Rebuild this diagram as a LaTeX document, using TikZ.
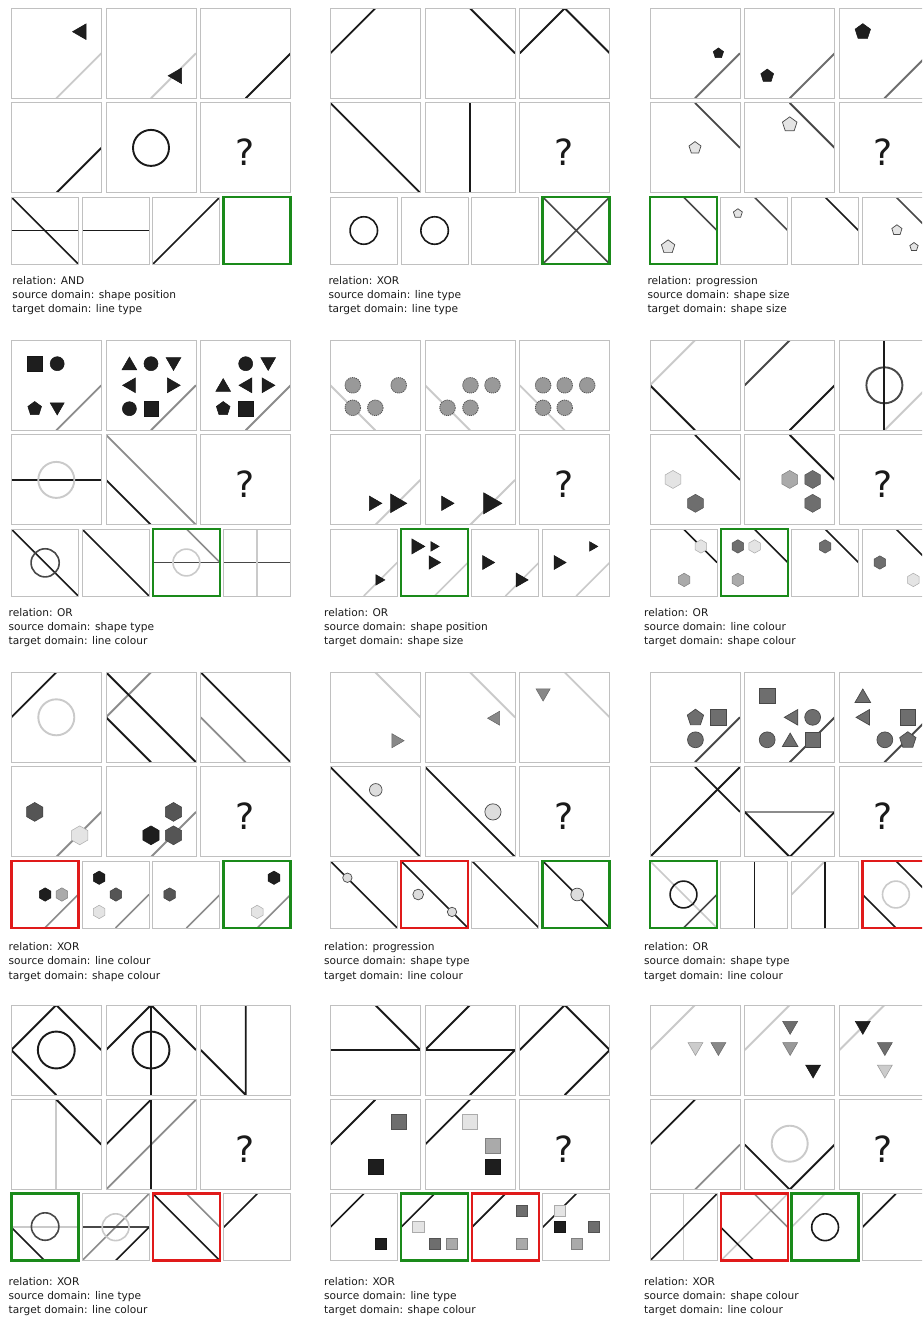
\documentclass[tikz,border=0pt]{standalone}
\usepackage{fontspec}
\setmainfont{DejaVu Sans}
\definecolor{cK}{HTML}{1A1A1A}
\definecolor{cD}{HTML}{484848}
\definecolor{cM}{HTML}{6E6E6E}
\definecolor{cG}{HTML}{8C8C8C}
\definecolor{cL}{HTML}{CACACA}
\definecolor{cFrame}{HTML}{C0C0C0}
\definecolor{cGreen}{HTML}{1A8A1A}
\definecolor{cRed}{HTML}{E01A1A}
\definecolor{fA}{HTML}{1E1E1E}
\definecolor{fB}{HTML}{555555}
\definecolor{fC}{HTML}{6E6E6E}
\definecolor{fD}{HTML}{999999}
\definecolor{fE}{HTML}{AAAAAA}
\definecolor{fF}{HTML}{CCCCCC}
\definecolor{fG}{HTML}{E4E4E4}
\definecolor{fH}{HTML}{888888}
\definecolor{fI}{HTML}{DDDDDD}
\tikzset{
  L/.style={draw=#1,line width=\lw},
  boxframe/.style={draw=cFrame,line width=0.9pt},
  gframe/.style={draw=cGreen,line width=2.6pt},
  rframe/.style={draw=cRed,line width=2.6pt},
  S/.style={fill=#1,draw=#1!75!black,line width=0.5pt},
  SO/.style={fill=#1,draw=cD,line width=0.7pt},
  SC/.style={fill=fD,draw=fB,line width=0.8pt,dash pattern=on 1.2pt off 0.9pt},
  txt/.style={anchor=base west,inner sep=0pt,font=\fontsize{10.6}{12}\selectfont,text=cK},
  qm/.style={font=\fontsize{36}{36}\selectfont,text=cK,inner sep=0pt}
}
\newcommand\Poly[6]{\path[#1] (#2,#3) +(#6:#4) \foreach \k in {1,...,#5}{ -- +({#6+360*\k/#5}:#4)} -- cycle;}
\newcommand\Tri[5]{\Poly{#1}{#2}{#3}{#4}{3}{#5}}
\newcommand\Pent[4]{\Poly{#1}{#2}{#3}{#4}{5}{-90}}
\newcommand\Hex[4]{\Poly{#1}{#2}{#3}{#4}{6}{-90}}
\newcommand\Sq[4]{\path[#1] ({#2-#4},{#3-#4}) rectangle ({#2+#4},{#3+#4});}
\newcommand\Ci[4]{\path[#1] (#2,#3) circle[radius=#4];}
\newcommand\Cell[5]{\begin{scope}[shift={(#1,#2)},x=#3,y=-#3]\begin{scope}\clip (0,0) rectangle (10,10);#5\end{scope}\draw[#4] (0,0) rectangle (10,10);\end{scope}}
\newcommand\M[3]{\def\lw{1.9pt}\Cell{{#1*94.7}}{{#2*94.6}}{9pt}{boxframe}{#3}}
\newcommand\An[3]{\def\lw{1.6pt}\Cell{{#1*70.8}}{188.7}{6.7pt}{#2}{#3}}
\newcommand\Q[1]{\node[qm] (#1) at (4.9,5.45) {?};}
\newcommand\Txt[6]{\node[txt] (#1a) at (#2,#3) {relation: #4};\node[txt] (#1b) at (#2,#3+14.2) {source domain: #5};\node[txt] (#1c) at (#2,#3+28.4) {target domain: #6};}
\begin{document}
\begin{tikzpicture}[x=1pt,y=-1pt]
\useasboundingbox (0,0) rectangle (922,1317);
\fill[white] (0,0) rectangle (922,1317);
\clip (0,0) rectangle (922,1317);
% ---------- Panel 1
\begin{scope}[shift={(11.3,8.3)}]
\M{0}{0}{\draw[L=cL] (5,10)--(10,5); \Tri{S=fA}{7.8}{2.6}{1.0}{180}}
\M{1}{0}{\draw[L=cL] (5,10)--(10,5); \Tri{S=fA}{7.9}{7.5}{1.0}{180}}
\M{2}{0}{\draw[L=cK] (5,10)--(10,5);}
\M{0}{1}{\draw[L=cK] (5,10)--(10,5);}
\M{1}{1}{\draw[L=cK] (5,5) circle[radius=2];}
\M{2}{1}{\Q{q1}}
\An{0}{boxframe}{\draw[L=cK] (0,5)--(10,5); \draw[L=cK] (0,0)--(10,10);}
\An{1}{boxframe}{\draw[L=cK] (0,5)--(10,5);}
\An{2}{boxframe}{\draw[L=cK] (0,10)--(10,0);}
\An{3}{gframe}{}
\end{scope}
\Txt{t1}{12.3}{284}{AND}{shape position}{line type}
% ---------- Panel 2
\begin{scope}[shift={(330.3,8.3)}]
\M{0}{0}{\draw[L=cK] (0,5)--(5,0);}
\M{1}{0}{\draw[L=cK] (5,0)--(10,5);}
\M{2}{0}{\draw[L=cK] (0,5)--(5,0)--(10,5);}
\M{0}{1}{\draw[L=cK] (0,0)--(10,10);}
\M{1}{1}{\draw[L=cK] (5,0)--(5,10);}
\M{2}{1}{\Q{q2}}
\An{0}{boxframe}{\draw[L=cK] (5,5) circle[radius=2.05];}
\An{1}{boxframe}{\draw[L=cK] (5,5) circle[radius=2.05];}
\An{2}{boxframe}{}
\An{3}{gframe}{\draw[L=cD] (0,0)--(10,10) (0,10)--(10,0);}
\end{scope}
\Txt{t2}{328.3}{284}{XOR}{line type}{line type}
% ---------- Panel 3
\begin{scope}[shift={(650.0,8.3)}]
\M{0}{0}{\draw[L=cM] (5,10)--(10,5); \Pent{S=fA}{7.6}{5.0}{0.6}}
\M{1}{0}{\draw[L=cM] (5,10)--(10,5); \Pent{S=fA}{2.5}{7.5}{0.75}}
\M{2}{0}{\draw[L=cM] (5,10)--(10,5); \Pent{S=fA}{2.6}{2.6}{0.9}}
\M{0}{1}{\draw[L=cD] (5,0)--(10,5); \Pent{SO=fG}{5}{5}{0.7}}
\M{1}{1}{\draw[L=cD] (5,0)--(10,5); \Pent{SO=fG}{5}{2.4}{0.85}}
\M{2}{1}{\Q{q3}}
\An{0}{gframe}{\draw[L=cD] (5,0)--(10,5); \Pent{SO=fG}{2.7}{7.45}{1.05}}
\An{1}{boxframe}{\draw[L=cD] (5,0)--(10,5); \Pent{SO=fG}{2.55}{2.45}{0.7}}
\An{2}{boxframe}{\draw[L=cK] (5,0)--(10,5);}
\An{3}{boxframe}{\draw[L=cD] (5,0)--(10,5); \Pent{SO=fG}{5.15}{4.95}{0.8} \Pent{SO=fG}{7.7}{7.45}{0.65}}
\end{scope}
\Txt{t3}{647.3}{284}{progression}{shape size}{shape size}
% ---------- Panel 4
\begin{scope}[shift={(11.3,340.3)}]
\M{0}{0}{\draw[L=cG] (5,10)--(10,5); \Sq{S=fA}{2.6}{2.6}{0.8} \Ci{S=fA}{5.1}{2.6}{0.78} \Pent{S=fA}{2.6}{7.6}{0.8} \Tri{S=fA}{5.1}{7.4}{0.9}{90}}
\M{1}{0}{\draw[L=cG] (5,10)--(10,5); \Tri{S=fA}{2.6}{2.8}{0.95}{-90} \Ci{S=fA}{5}{2.6}{0.78} \Tri{S=fA}{7.5}{2.4}{0.95}{90} \Tri{S=fA}{2.8}{5}{0.95}{180} \Tri{S=fA}{7.3}{5}{0.95}{0} \Ci{S=fA}{2.6}{7.6}{0.78} \Sq{S=fA}{5}{7.6}{0.8}}
\M{2}{0}{\draw[L=cG] (5,10)--(10,5); \Ci{S=fA}{5}{2.6}{0.78} \Tri{S=fA}{7.5}{2.4}{0.95}{90} \Tri{S=fA}{2.5}{5.2}{0.95}{-90} \Tri{S=fA}{5.2}{5}{0.95}{180} \Tri{S=fA}{7.3}{5}{0.95}{0} \Pent{S=fA}{2.5}{7.6}{0.8} \Sq{S=fA}{5}{7.6}{0.8}}
\M{0}{1}{\draw[L=cK] (0,5)--(10,5); \draw[L=cL] (5,5) circle[radius=2];}
\M{1}{1}{\draw[L=cK] (0,5)--(5,10); \draw[L=cG] (0,0)--(10,10);}
\M{2}{1}{\Q{q4}}
\An{0}{boxframe}{\draw[L=cK] (0,0)--(10,10); \draw[L=cD] (5.05,5.05) circle[radius=2.1];}
\An{1}{boxframe}{\draw[L=cK] (0,0)--(10,10);}
\An{2}{gframe}{\draw[L=cD] (0,5)--(10,5); \draw[L=cL] (5,5) circle[radius=2]; \draw[L=cG] (5,0)--(10,5);}
\An{3}{boxframe}{\draw[L=cD] (0,5)--(10,5); \draw[L=cL] (5,0)--(5,10);}
\end{scope}
\Txt{t4}{8.5}{616.3}{OR}{shape type}{line colour}
% ---------- Panel 5
\begin{scope}[shift={(330.3,340.3)}]
\M{0}{0}{\draw[L=cL] (0,5)--(5,10); \Ci{SC}{2.5}{5}{0.87} \Ci{SC}{7.6}{5}{0.87} \Ci{SC}{2.5}{7.5}{0.87} \Ci{SC}{5}{7.5}{0.87}}
\M{1}{0}{\draw[L=cL] (0,5)--(5,10); \Ci{SC}{5.05}{5}{0.87} \Ci{SC}{7.5}{5}{0.87} \Ci{SC}{2.5}{7.5}{0.87} \Ci{SC}{5.05}{7.5}{0.87}}
\M{2}{0}{\draw[L=cL] (0,5)--(5,10); \Ci{SC}{2.6}{5}{0.87} \Ci{SC}{5}{5}{0.87} \Ci{SC}{7.5}{5}{0.87} \Ci{SC}{2.6}{7.5}{0.87} \Ci{SC}{5}{7.5}{0.87}}
\M{0}{1}{\draw[L=cL] (5,10)--(10,5); \Tri{S=fA}{4.8}{7.6}{0.93}{0} \Tri{S=fA}{7.3}{7.6}{1.2}{0}}
\M{1}{1}{\draw[L=cL] (5,10)--(10,5); \Tri{S=fA}{2.3}{7.6}{0.93}{0} \Tri{S=fA}{7.2}{7.6}{1.35}{0}}
\M{2}{1}{\Q{q5}}
\An{0}{boxframe}{\draw[L=cL] (5,10)--(10,5); \Tri{S=fA}{7.25}{7.6}{0.9}{0}}
\An{1}{gframe}{\draw[L=cL] (5,10)--(10,5); \Tri{S=fA}{2.25}{2.6}{1.3}{0} \Tri{S=fA}{4.85}{2.6}{0.83}{0} \Tri{S=fA}{4.75}{5}{1.15}{0}}
\An{2}{boxframe}{\draw[L=cL] (5,10)--(10,5); \Tri{S=fA}{2.2}{5}{1.2}{0} \Tri{S=fA}{7.2}{7.6}{1.2}{0}}
\An{3}{boxframe}{\draw[L=cL] (5,10)--(10,5); \Tri{S=fA}{2.3}{5}{1.2}{0} \Tri{S=fA}{7.4}{2.6}{0.83}{0}}
\end{scope}
\Txt{t5}{324}{616.3}{OR}{shape position}{shape size}
% ---------- Panel 6
\begin{scope}[shift={(650.0,340.3)}]
\M{0}{0}{\draw[L=cL] (0,5)--(5,0); \draw[L=cK] (0,5)--(5,10);}
\M{1}{0}{\draw[L=cD] (0,5)--(5,0); \draw[L=cK] (5,10)--(10,5);}
\M{2}{0}{\draw[L=cL] (5,10)--(10,5); \draw[L=cD] (5,5) circle[radius=2]; \draw[L=cK] (5,0)--(5,10);}
\M{0}{1}{\draw[L=cK] (5,0)--(10,5); \Hex{S=fG}{2.55}{4.95}{1.0} \Hex{S=fC}{5.05}{7.6}{1.0}}
\M{1}{1}{\draw[L=cK] (5,0)--(10,5); \Hex{S=fE}{5}{4.95}{1.0} \Hex{S=fC}{7.55}{4.95}{1.0} \Hex{S=fC}{7.55}{7.6}{1.0}}
\M{2}{1}{\Q{q6}}
\An{0}{boxframe}{\draw[L=cK] (5,0)--(10,5); \Hex{S=fG}{7.6}{2.6}{1.0} \Hex{S=fE}{5.1}{7.6}{1.0}}
\An{1}{gframe}{\draw[L=cK] (5,0)--(10,5); \Hex{S=fC}{2.55}{2.6}{1.0} \Hex{S=fG}{5.05}{2.6}{1.0} \Hex{S=fE}{2.55}{7.6}{1.0}}
\An{2}{boxframe}{\draw[L=cK] (5,0)--(10,5); \Hex{S=fC}{5}{2.6}{1.0}}
\An{3}{boxframe}{\draw[L=cK] (5,0)--(10,5); \Hex{S=fC}{2.6}{5}{1.0} \Hex{S=fG}{7.6}{7.6}{1.0}}
\end{scope}
\Txt{t6}{644}{616.3}{OR}{line colour}{shape colour}
% ---------- Panel 7
\begin{scope}[shift={(11.3,672.3)}]
\M{0}{0}{\draw[L=cK] (0,5)--(5,0); \draw[L=cL] (5,5) circle[radius=2];}
\M{1}{0}{\draw[L=cG] (0,5)--(5,0); \draw[L=cK] (0,0)--(10,10); \draw[L=cK] (0,5)--(5,10);}
\M{2}{0}{\draw[L=cK] (0,0)--(10,10); \draw[L=cG] (0,5)--(5,10);}
\M{0}{1}{\draw[L=cG] (5,10)--(10,5); \Hex{S=fB}{2.6}{5}{1.05} \Hex{S=fG}{7.6}{7.6}{1.05}}
\M{1}{1}{\draw[L=cG] (5,10)--(10,5); \Hex{S=fB}{7.5}{5}{1.05} \Hex{S=fA}{5}{7.6}{1.05} \Hex{S=fB}{7.5}{7.6}{1.05}}
\M{2}{1}{\Q{q7}}
\An{0}{rframe}{\draw[L=cG] (5,10)--(10,5); \Hex{S=fA}{5.05}{5}{1.0} \Hex{S=fE}{7.55}{5}{1.0}}
\An{1}{boxframe}{\draw[L=cG] (5,10)--(10,5); \Hex{S=fA}{2.55}{2.5}{1.0} \Hex{S=fB}{5.05}{5}{1.0} \Hex{S=fG}{2.55}{7.6}{1.0}}
\An{2}{boxframe}{\draw[L=cG] (5,10)--(10,5); \Hex{S=fB}{2.5}{5}{1.0}}
\An{3}{gframe}{\draw[L=cG] (5,10)--(10,5); \Hex{S=fA}{7.5}{2.5}{1.0} \Hex{S=fG}{5}{7.6}{1.0}}
\end{scope}
\Txt{t7}{8.5}{950.7}{XOR}{line colour}{shape colour}
% ---------- Panel 8
\begin{scope}[shift={(330.3,672.3)}]
\M{0}{0}{\draw[L=cL] (5,0)--(10,5); \Tri{S=fH}{7.3}{7.6}{0.9}{0}}
\M{1}{0}{\draw[L=cL] (5,0)--(10,5); \Tri{S=fH}{7.85}{5.1}{0.9}{180}}
\M{2}{0}{\draw[L=cL] (5,0)--(10,5); \Tri{S=fH}{2.6}{2.3}{0.9}{90}}
\M{0}{1}{\draw[L=cK] (0,0)--(10,10); \Ci{SO=fI}{5.05}{2.55}{0.7}}
\M{1}{1}{\draw[L=cK] (0,0)--(10,10); \Ci{SO=fI}{7.55}{5}{0.9}}
\M{2}{1}{\Q{q8}}
\An{0}{boxframe}{\draw[L=cK] (0,0)--(10,10); \Ci{SO=fI}{2.55}{2.5}{0.7}}
\An{1}{rframe}{\draw[L=cK] (0,0)--(10,10); \Ci{SO=fI}{2.55}{5}{0.8} \Ci{SO=fI}{7.6}{7.6}{0.7}}
\An{2}{boxframe}{\draw[L=cK] (0,0)--(10,10);}
\An{3}{gframe}{\draw[L=cK] (0,0)--(10,10); \Ci{SO=fI}{5.15}{5}{0.95}}
\end{scope}
\Txt{t8}{324}{950.7}{progression}{shape type}{line colour}
% ---------- Panel 9
\begin{scope}[shift={(650.0,672.3)}]
\M{0}{0}{\draw[L=cD] (5,10)--(10,5); \Pent{SO=fC}{5.05}{5.05}{0.95} \Sq{SO=fC}{7.6}{5}{0.85} \Ci{SO=fC}{5.05}{7.5}{0.88}}
\M{1}{0}{\draw[L=cD] (5,10)--(10,5); \Sq{SO=fC}{2.5}{2.6}{0.85} \Tri{SO=fC}{5.4}{5}{1.0}{180} \Ci{SO=fC}{7.55}{5}{0.88} \Ci{SO=fC}{2.5}{7.5}{0.88} \Tri{SO=fC}{5.05}{7.75}{1.0}{-90} \Sq{SO=fC}{7.55}{7.5}{0.85}}
\M{2}{0}{\draw[L=cD] (5,10)--(10,5); \Tri{SO=fC}{2.6}{2.85}{1.0}{-90} \Tri{SO=fC}{2.85}{5}{1.0}{180} \Sq{SO=fC}{7.6}{5}{0.85} \Ci{SO=fC}{5.05}{7.5}{0.88} \Pent{SO=fC}{7.6}{7.55}{0.95}}
\M{0}{1}{\draw[L=cK] (0,10)--(10,0); \draw[L=cK] (5,0)--(10,5);}
\M{1}{1}{\draw[L=cG] (0,5)--(10,5); \draw[L=cK] (0,5)--(5,10)--(10,5);}
\M{2}{1}{\Q{q9}}
\An{0}{gframe}{\draw[L=cL] (0,0)--(10,10); \draw[L=cK] (5,5) circle[radius=2]; \draw[L=cD] (5,10)--(10,5);}
\An{1}{boxframe}{\draw[L=cK] (5,0)--(5,10);}
\An{2}{boxframe}{\draw[L=cL] (0,5)--(5,0); \draw[L=cK] (5,0)--(5,10);}
\An{3}{rframe}{\draw[L=cL] (5,5) circle[radius=2]; \draw[L=cK] (0,5)--(5,10); \draw[L=cK] (5,0)--(10,5);}
\end{scope}
\Txt{t9}{644}{950.7}{OR}{shape type}{line colour}
% ---------- Panel 10
\begin{scope}[shift={(11.3,1005.0)}]
\M{0}{0}{\draw[L=cK] (5,10)--(0,5)--(5,0)--(10,5); \draw[L=cK] (5,5) circle[radius=2.05];}
\M{1}{0}{\draw[L=cK] (0,5)--(5,0)--(10,5); \draw[L=cK] (5,0)--(5,10); \draw[L=cK] (5,5) circle[radius=2.05];}
\M{2}{0}{\draw[L=cK] (0,5)--(5,10)--(5,0);}
\M{0}{1}{\draw[L=cL] (5,0)--(5,10); \draw[L=cK] (5,0)--(10,5);}
\M{1}{1}{\draw[L=cG] (0,10)--(10,0); \draw[L=cK] (0,5)--(5,0); \draw[L=cK] (5,0)--(5,10);}
\M{2}{1}{\Q{q10}}
\An{0}{gframe}{\draw[L=cL] (0,5)--(10,5); \draw[L=cD] (5.05,4.9) circle[radius=2.05]; \draw[L=cK] (0,5)--(5,10);}
\An{1}{boxframe}{\draw[L=cG] (0,10)--(10,0); \draw[L=cD] (0,5)--(10,5); \draw[L=cL] (5,5) circle[radius=2]; \draw[L=cK] (5,10)--(10,5);}
\An{2}{rframe}{\draw[L=cK] (0,0)--(10,10); \draw[L=cG] (5,0)--(10,5);}
\An{3}{boxframe}{\draw[L=cK] (0,5)--(5,0);}
\end{scope}
\Txt{t10}{8.5}{1285.3}{XOR}{line type}{line colour}
% ---------- Panel 11
\begin{scope}[shift={(330.3,1005.0)}]
\M{0}{0}{\draw[L=cK] (0,5)--(10,5); \draw[L=cK] (5,0)--(10,5);}
\M{1}{0}{\draw[L=cK] (0,5)--(5,0); \draw[L=cK] (0,5)--(10,5); \draw[L=cK] (5,10)--(10,5);}
\M{2}{0}{\draw[L=cK] (0,5)--(5,0)--(10,5)--(5,10);}
\M{0}{1}{\draw[L=cK] (0,5)--(5,0); \Sq{S=fC}{7.6}{2.5}{0.83} \Sq{S=fA}{5.05}{7.5}{0.83}}
\M{1}{1}{\draw[L=cK] (0,5)--(5,0); \Sq{S=fG}{5}{2.5}{0.83} \Sq{S=fE}{7.55}{5.1}{0.83} \Sq{S=fA}{7.55}{7.5}{0.83}}
\M{2}{1}{\Q{q11}}
\An{0}{boxframe}{\draw[L=cK] (0,5)--(5,0); \Sq{S=fA}{7.55}{7.5}{0.83}}
\An{1}{gframe}{\draw[L=cK] (0,5)--(5,0); \Sq{S=fG}{2.55}{4.9}{0.83} \Sq{S=fC}{5.05}{7.5}{0.83} \Sq{S=fE}{7.6}{7.5}{0.83}}
\An{2}{rframe}{\draw[L=cK] (0,5)--(5,0); \Sq{S=fC}{7.5}{2.5}{0.83} \Sq{S=fE}{7.5}{7.5}{0.83}}
\An{3}{boxframe}{\draw[L=cK] (0,5)--(5,0); \Sq{S=fG}{2.6}{2.5}{0.83} \Sq{S=fA}{2.6}{4.9}{0.83} \Sq{S=fC}{7.6}{4.9}{0.83} \Sq{S=fE}{5.1}{7.5}{0.83}}
\end{scope}
\Txt{t11}{324}{1285.3}{XOR}{line type}{shape colour}
% ---------- Panel 12
\begin{scope}[shift={(650.0,1005.0)}]
\M{0}{0}{\draw[L=cL] (0,5)--(5,0); \Tri{S=fF}{5.05}{4.65}{0.96}{90} \Tri{S=fH}{7.6}{4.65}{0.96}{90}}
\M{1}{0}{\draw[L=cL] (0,5)--(5,0); \Tri{S=fC}{5.05}{2.3}{0.96}{90} \Tri{S=fD}{5.05}{4.65}{0.96}{90} \Tri{S=fA}{7.6}{7.15}{0.96}{90}}
\M{2}{0}{\draw[L=cL] (0,5)--(5,0); \Tri{S=fA}{2.6}{2.3}{0.96}{90} \Tri{S=fC}{5.05}{4.65}{0.96}{90} \Tri{S=fF}{5.05}{7.15}{0.96}{90}}
\M{0}{1}{\draw[L=cK] (0,5)--(5,0); \draw[L=cG] (5,10)--(10,5);}
\M{1}{1}{\draw[L=cL] (5,4.9) circle[radius=2]; \draw[L=cK] (0,5)--(5,10)--(10,5);}
\M{2}{1}{\Q{q12}}
\An{0}{boxframe}{\draw[L=cL] (5,0)--(5,10); \draw[L=cK] (0,10)--(10,0);}
\An{1}{rframe}{\draw[L=cL] (0,10)--(10,0); \draw[L=cK] (0,5)--(5,10); \draw[L=cG] (5,0)--(10,5);}
\An{2}{gframe}{\draw[L=cL] (0,5)--(5,0); \draw[L=cK] (5,5) circle[radius=2];}
\An{3}{boxframe}{\draw[L=cK] (0,5)--(5,0);}
\end{scope}
\Txt{t12}{644}{1285.3}{XOR}{shape colour}{line colour}
\end{tikzpicture}
\end{document}
